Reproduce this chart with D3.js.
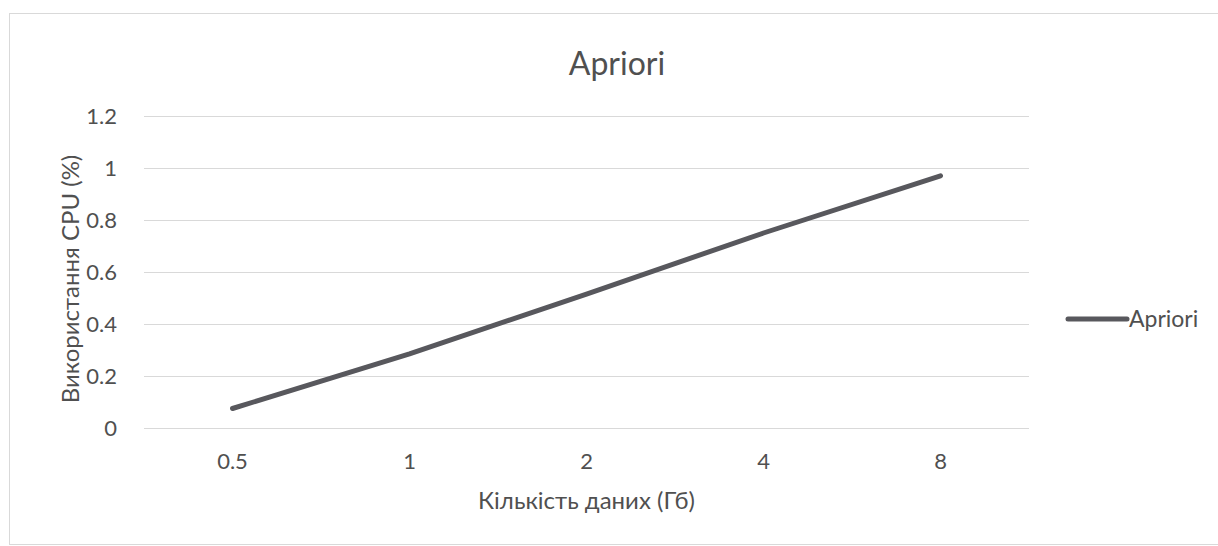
<!DOCTYPE html>
<html>
<head>
<meta charset="utf-8">
<script src="https://cdn.jsdelivr.net/npm/d3@7"></script>
<style>
  html, body { margin: 0; padding: 0; background: #fff; }
  svg { display: block; }
  text { font-family: Lato, "Open Sans", sans-serif; fill: #505050; }
</style>
</head>
<body>
<svg id="chart" width="1218" height="546"></svg>
<script>
// Data volume (GB) vs CPU usage for the Apriori algorithm
const categories = ["0.5", "1", "2", "4", "8"];
const cpuUsage = [0.075, 0.285, 0.515, 0.75, 0.97];
const yTicks = [0, 0.2, 0.4, 0.6, 0.8, 1, 1.2];
const seriesName = "Apriori";
const chartTitle = "Apriori";
const xTitle = "Кількість даних (Гб)";
const yTitle = "Використання CPU (%)";

const svg = d3.select("#chart");

// Chart frame
svg.append("rect")
  .attr("x", 9.5).attr("y", 13.5)
  .attr("width", 1215).attr("height", 531)
  .attr("fill", "#fff")
  .attr("stroke", "#d9d9d9").attr("stroke-width", 1);

const plot = { left: 144, right: 1029, top: 116, bottom: 428 };

const x = d3.scaleBand()
  .domain(categories)
  .range([plot.left, plot.right]);

const y = d3.scaleLinear()
  .domain([0, 1.2])
  .range([plot.bottom, plot.top]);

// Horizontal gridlines
svg.append("g")
  .selectAll("line")
  .data(yTicks)
  .join("line")
  .attr("x1", plot.left).attr("x2", plot.right)
  .attr("y1", d => Math.round(y(d)) + 0.5)
  .attr("y2", d => Math.round(y(d)) + 0.5)
  .attr("stroke", "#d9d9d9")
  .attr("stroke-width", 1);

// Y axis labels
const yAxis = d3.axisLeft(y)
  .tickValues(yTicks)
  .tickSize(0)
  .tickPadding(0)
  .tickFormat(d => String(d));
const gy = svg.append("g")
  .attr("transform", `translate(${plot.left - 27},0)`)
  .call(yAxis);
gy.select(".domain").remove();
gy.selectAll("text")
  .style("font-size", "22px")
  .attr("fill", "#505050")
  .attr("dy", "0.35em");

// X axis labels
const xAxis = d3.axisBottom(x).tickSize(0).tickPadding(0);
const gx = svg.append("g")
  .attr("transform", `translate(0,${plot.bottom + 25})`)
  .call(xAxis);
gx.select(".domain").remove();
gx.selectAll("text")
  .style("font-size", "22px")
  .attr("fill", "#505050")
  .attr("dy", "0.71em");

// Data line
const line = d3.line()
  .x((d, i) => x(categories[i]) + x.bandwidth() / 2)
  .y(d => y(d));

svg.append("path")
  .datum(cpuUsage)
  .attr("d", line)
  .attr("fill", "none")
  .attr("stroke", "#58585d")
  .attr("stroke-width", 5)
  .attr("stroke-linecap", "round")
  .attr("stroke-linejoin", "round");

// Title
svg.append("text")
  .attr("x", 617).attr("y", 75)
  .attr("text-anchor", "middle")
  .style("font-size", "32px")
  .text(chartTitle);

// Axis titles
svg.append("text")
  .attr("x", (plot.left + plot.right) / 2).attr("y", 509)
  .attr("text-anchor", "middle")
  .style("font-size", "24px")
  .text(xTitle);

svg.append("text")
  .attr("transform", `translate(79,${(plot.top + plot.bottom) / 2 + 7}) rotate(-90)`)
  .attr("text-anchor", "middle")
  .style("font-size", "24px")
  .text(yTitle);

// Legend
const legend = svg.append("g").attr("transform", "translate(1068,319)");
legend.append("line")
  .attr("x1", 0).attr("x2", 59)
  .attr("stroke", "#58585d")
  .attr("stroke-width", 5)
  .attr("stroke-linecap", "round");
legend.append("text")
  .attr("x", 61).attr("y", 0)
  .attr("dy", "0.35em")
  .style("font-size", "23px")
  .text(seriesName);
</script>
</body>
</html>
